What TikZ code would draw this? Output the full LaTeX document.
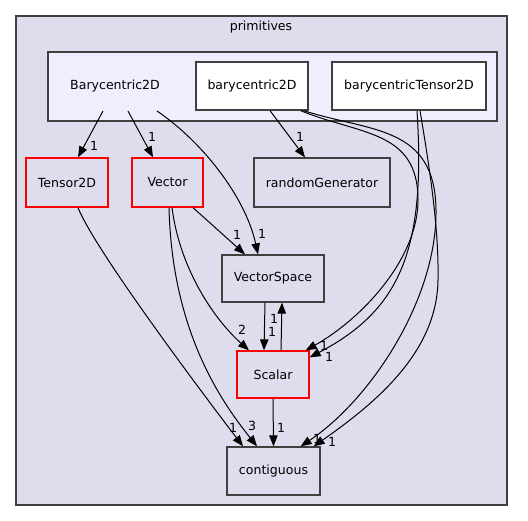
\documentclass[tikz,border=0pt]{standalone}
\usepackage{fontspec}
\setmainfont{DejaVu Sans}
\usetikzlibrary{arrows.meta}
\definecolor{clusterfill}{HTML}{DDDDEE}
\definecolor{innerfill}{HTML}{EEEEFF}
\definecolor{bordergrey}{HTML}{404040}
\begin{document}
\begin{tikzpicture}[x=1bp,y=-1bp,
  font=\fontsize{12.6}{15}\selectfont,
  cluster/.style={draw=bordergrey, line width=1.6bp, fill=clusterfill, inner sep=0pt},
  box/.style={draw=bordergrey, line width=1.3bp, fill=clusterfill, inner sep=0pt, text=black},
  redbox/.style={box, draw=red, line width=1.3bp},
  whitebox/.style={box, fill=white},
  edge/.style={draw=black, line width=1bp, -{Triangle[length=11bp,width=8.5bp]}},
  lbl/.style={inner sep=0pt, font=\fontsize{12.6}{14}\selectfont}]
\useasboundingbox (0,0) rectangle (528,521);
\fill[white] (0,0) rectangle (528,521);
% clusters
\node[cluster, minimum width=491bp, minimum height=489bp] (prim) at (261.5,260.5) {};
\node (primlbl) at (261,27) {primitives};
\node[cluster, fill=innerfill, minimum width=449bp, minimum height=69bp] (bary) at (272.5,86.5) {};
\node (barylbl) at (115,86) {Barycentric2D};
% nodes
\node[whitebox, minimum width=112bp, minimum height=48bp] (b2d) at (252,86) {barycentric2D};
\node[whitebox, minimum width=154bp, minimum height=48bp] (bt2d) at (409,86) {barycentricTensor2D};
\node[redbox, minimum width=82bp, minimum height=49bp] (tensor) at (67,182.5) {Tensor2D};
\node[redbox, minimum width=71bp, minimum height=49bp] (vector) at (167.5,182.5) {Vector};
\node[box, minimum width=136bp, minimum height=49bp] (rng) at (322,182.5) {randomGenerator};
\node[box, minimum width=102bp, minimum height=47bp] (vs) at (273,278.5) {VectorSpace};
\node[redbox, minimum width=72bp, minimum height=47bp] (scalar) at (273,374.5) {Scalar};
\node[box, minimum width=93bp, minimum height=48bp] (contig) at (273.5,471) {contiguous};
% cluster edge starts
\coordinate (bs1) at (103,111);
\coordinate (bs2) at (128,111);
\coordinate (bs3) at (157,111);
% edges
\draw[edge] (bs1) -- ([xshift=11bp]tensor.north);
\node[lbl] (l1) at (94,146) {1};
\draw[edge] (bs2) -- ([xshift=-14.5bp]vector.north);
\node[lbl] (l2) at (152,137) {1};
\draw[edge] (bs3) .. controls (200,140) and (245,195) .. ([xshift=-15bp]vs.north);
\node[lbl] (l3) at (262,234) {1};
\draw[edge] ([xshift=18bp]b2d.south) -- ([xshift=-17bp]rng.north);
\node[lbl] (l4) at (300,137) {1};
\draw[edge] ([xshift=25.5bp]vector.south) -- ([xshift=-28bp]vs.north);
\node[lbl] (l5) at (237,235) {1};
\draw[edge] ([xshift=4.5bp]vector.south) .. controls (180,270) and (215,320) .. ([xshift=-24bp]scalar.north);
\node[lbl] (l6) at (242,330) {2};
\draw[edge] ([xshift=1.5bp]vector.south) .. controls (172,330) and (220,400) .. ([xshift=-16.5bp]contig.north);
\node[lbl] (l7) at (252,426) {3};
\draw[edge] ([xshift=11bp]tensor.south) .. controls (95,250) and (200,390) .. ([xshift=-30.5bp]contig.north);
\node[lbl] (l8) at (233,428) {1};
\draw[edge] ([xshift=-8bp]vs.south) -- ([xshift=-9bp]scalar.north);
\node[lbl] (l9) at (272,332) {1};
\draw[edge] ([xshift=8bp]scalar.north) -- ([xshift=9bp]vs.south);
\node[lbl] (l10) at (274,319) {1};
\draw[edge] (scalar.south) -- (contig.north);
\node[lbl] (l11) at (281,428) {1};
% right curves
\draw[edge] ([xshift=-8bp]b2d.south east) .. controls (360,135) and (418,130) .. (418,200)
  .. controls (418,260) and (360,320) .. ([xshift=-4bp]scalar.north east);
\node[lbl] (l12) at (324,346) {1};
\draw[edge] ([xshift=8bp]bt2d.south) .. controls (426,250) and (400,310) .. ([yshift=-7bp]scalar.north east);
\node[lbl] (l13) at (329,357) {1};
\draw[edge] ([xshift=-5bp]b2d.south east) .. controls (370,132) and (435,125) .. (436,210)
  .. controls (437,300) and (370,400) .. ([xshift=-20bp]contig.north east);
\node[lbl] (l14) at (317,439) {1};
\draw[edge] ([xshift=11bp]bt2d.south) .. controls (430,170) and (439,230) .. (438,280)
  .. controls (437,350) and (380,400) .. ([xshift=-7bp]contig.north east);
\node[lbl] (l15) at (332,442) {1};
\end{tikzpicture}
\end{document}
